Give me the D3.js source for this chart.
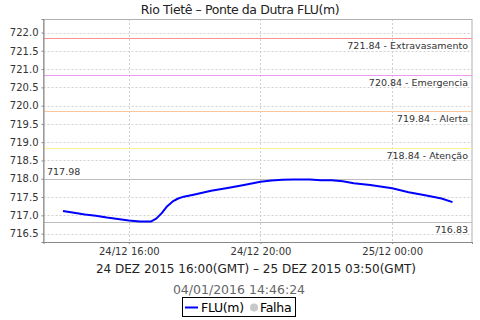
<!doctype html>
<html lang="pt">
<head>
<meta charset="utf-8">
<title>Rio Tietê - Ponte da Dutra FLU(m)</title>
<style>
  body { margin: 0; background: #fff; }
  svg { font-family: "DejaVu Sans", sans-serif; }
</style>
</head>
<body>
<div id="chart"></div>
<script src="https://cdn.jsdelivr.net/npm/d3@7"></script>
<script>
// leituras a cada ~20 min, minutos a partir de 24/12 14:00 (hora local)
var minutos = [0, 20, 40, 60, 80, 100, 120, 140, 160, 170, 180, 190, 200, 210, 220, 240,
  270, 300, 330, 360, 380, 400, 420, 450, 470, 490, 510, 530, 560, 600, 630, 660, 690, 710];
var nivel = [717.12, 717.07, 717.02, 716.99, 716.94, 716.90, 716.86, 716.83, 716.83, 716.91,
  717.06, 717.25, 717.38, 717.46, 717.51, 717.57, 717.67, 717.75, 717.83, 717.92,
  717.95, 717.97, 717.98, 717.98, 717.96, 717.96, 717.93, 717.88, 717.83, 717.74,
  717.63, 717.55, 717.46, 717.36];

var limites = [721.84, 720.84, 719.84, 718.84];
var limiteNomes = ["Extravasamento", "Emergencia", "Alerta", "Atenção"];
var limiteCores = ["#ff8f8f", "#ee99ee", "#f8c89a", "#fff38f"];

var yTicks = [716.5, 717.0, 717.5, 718.0, 718.5, 719.0, 719.5, 720.0, 720.5, 721.0, 721.5, 722.0];
var xTicks = ["2015-12-24T16:00", "2015-12-24T20:00", "2015-12-25T00:00"];

var W = 480, H = 320;
var pLeft = 43.5, pRight = 472, pTop = 19, pBottom = 242;

var t0 = new Date("2015-12-24T14:00Z");
var data = minutos.map(function(m, i) {
  return { t: new Date(t0.getTime() + m * 60000), v: nivel[i] };
});

var x = d3.scaleUtc()
  .domain([new Date("2015-12-24T13:24:30Z"), new Date("2015-12-25T02:25:30Z")])
  .range([pLeft, pRight]);
var y = d3.scaleLinear().domain([716.27, 722.37]).range([pBottom, pTop]);

var svg = d3.select("#chart").append("svg")
  .attr("width", W).attr("height", H);

// grade tracejada
svg.append("g").selectAll("line").data(yTicks).enter().append("line")
  .attr("x1", pLeft).attr("x2", pRight)
  .attr("y1", function(d) { return Math.round(y(d)) + 0.5; })
  .attr("y2", function(d) { return Math.round(y(d)) + 0.5; })
  .attr("stroke", "#d0d0d0").attr("stroke-dasharray", "2,2");
svg.append("g").selectAll("line").data(xTicks).enter().append("line")
  .attr("x1", function(d) { return Math.round(x(new Date(d + "Z"))) + 0.5; })
  .attr("x2", function(d) { return Math.round(x(new Date(d + "Z"))) + 0.5; })
  .attr("y1", pTop).attr("y2", pBottom)
  .attr("stroke", "#d0d0d0").attr("stroke-dasharray", "2,2");

// borda do plot
svg.append("rect")
  .attr("x", pLeft).attr("y", pTop + 0.5)
  .attr("width", pRight - pLeft).attr("height", pBottom - pTop)
  .attr("fill", "none").attr("stroke", "#b0b0b0");

// linhas de limite
svg.append("g").selectAll("line").data(limites).enter().append("line")
  .attr("x1", pLeft).attr("x2", pRight)
  .attr("y1", function(d) { return Math.round(y(d)) + 0.5; })
  .attr("y2", function(d) { return Math.round(y(d)) + 0.5; })
  .attr("stroke", function(d, i) { return limiteCores[i]; });
svg.append("g").selectAll("text").data(limites).enter().append("text")
  .attr("x", 468).attr("y", function(d) { return y(d) + 11; })
  .attr("text-anchor", "end").attr("font-size", 9.5).attr("fill", "#333")
  .text(function(d, i) { return d.toFixed(2) + " - " + limiteNomes[i]; });

// max / min
var vmax = d3.max(nivel), vmin = d3.min(nivel);
[vmax, vmin].forEach(function(v) {
  svg.append("line")
    .attr("x1", pLeft).attr("x2", pRight)
    .attr("y1", Math.round(y(v)) + 0.5).attr("y2", Math.round(y(v)) + 0.5)
    .attr("stroke", "#bdbdbd");
});
svg.append("text").attr("x", 47).attr("y", y(vmax) - 4)
  .attr("font-size", 9.5).attr("fill", "#333").text(vmax.toFixed(2));
svg.append("text").attr("x", 468).attr("y", y(vmin) + 11)
  .attr("text-anchor", "end").attr("font-size", 9.5).attr("fill", "#333").text(vmin.toFixed(2));

// eixos
var yAxis = svg.append("g").attr("transform", "translate(" + pLeft + ",0)")
  .call(d3.axisLeft(y).tickValues(yTicks).tickFormat(d3.format(".1f")).tickSize(2).tickPadding(3));
var xAxis = svg.append("g").attr("transform", "translate(0," + pBottom + ")")
  .call(d3.axisBottom(x).tickValues(xTicks.map(function(d) { return new Date(d + "Z"); }))
    .tickFormat(d3.utcFormat("%d/%m %H:%M")).tickSize(2).tickPadding(4));
[yAxis, xAxis].forEach(function(a) {
  a.select(".domain").attr("stroke", "#888");
  a.selectAll(".tick line").attr("stroke", "#888");
  a.selectAll(".tick text").attr("font-family", "DejaVu Sans").attr("font-size", 10).attr("fill", "#333");
});

// serie
svg.append("path").datum(data)
  .attr("fill", "none").attr("stroke", "#0000ff").attr("stroke-width", 2)
  .attr("stroke-linejoin", "round")
  .attr("d", d3.line().x(function(d) { return x(d.t); }).y(function(d) { return y(d.v); }));

// titulos
svg.append("text").attr("x", 240).attr("y", 14).attr("text-anchor", "middle")
  .attr("font-size", 12.5).attr("letter-spacing", -0.4).attr("fill", "#222")
  .text("Rio Tietê – Ponte da Dutra FLU(m)");
svg.append("text").attr("x", 256).attr("y", 273).attr("text-anchor", "middle")
  .attr("font-size", 12).attr("fill", "#222")
  .text("24 DEZ 2015 16:00(GMT) – 25 DEZ 2015 03:50(GMT)");
svg.append("text").attr("x", 239).attr("y", 294).attr("text-anchor", "middle")
  .attr("font-size", 12.5).attr("fill", "#666").text("04/01/2016 14:46:24");

// legenda
var leg = svg.append("g");
leg.append("rect").attr("x", 182.5).attr("y", 297.5).attr("width", 113).attr("height", 19)
  .attr("fill", "#fff").attr("stroke", "#000");
leg.append("line").attr("x1", 185).attr("x2", 198).attr("y1", 307.5).attr("y2", 307.5)
  .attr("stroke", "#0000ff").attr("stroke-width", 2);
leg.append("text").attr("x", 201).attr("y", 312).attr("font-size", 12.5).attr("letter-spacing", -0.3)
  .attr("fill", "#000").text("FLU(m)");
leg.append("circle").attr("cx", 254).attr("cy", 307.5).attr("r", 4).attr("fill", "#c8c8c8");
leg.append("text").attr("x", 260).attr("y", 312).attr("font-size", 12.5).attr("letter-spacing", -0.3)
  .attr("fill", "#000").text("Falha");
</script>
</body>
</html>
